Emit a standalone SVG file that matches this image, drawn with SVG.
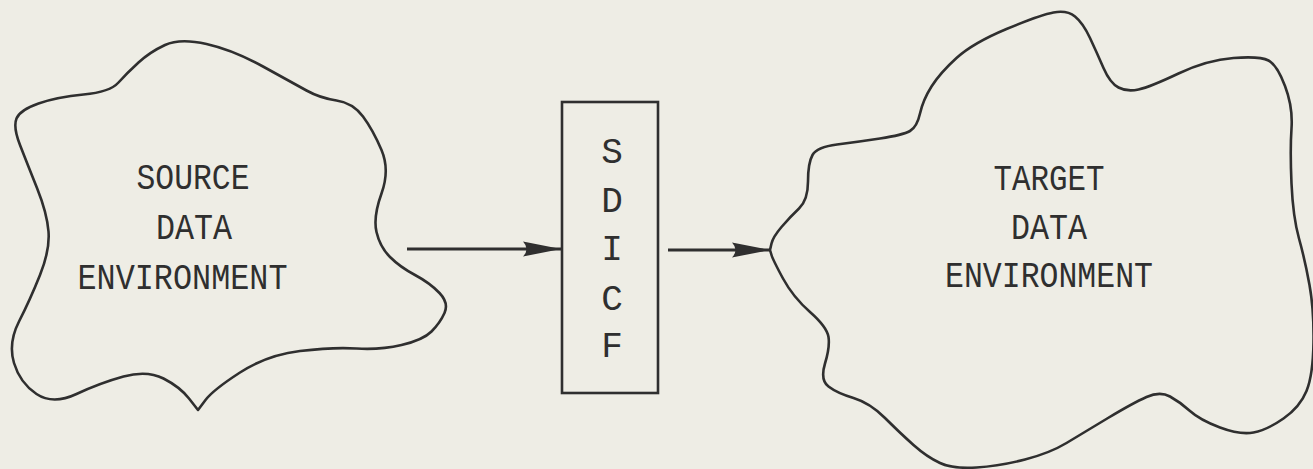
<svg xmlns="http://www.w3.org/2000/svg" width="1313" height="469" viewBox="0 0 1313 469">
  <style>
    .cloud { fill: none; stroke: #2f2f2f; stroke-width: 2.6; stroke-linejoin: round; }
    .box { fill: none; stroke: #2f2f2f; stroke-width: 2.6; }
    .flow { fill: none; stroke: #2f2f2f; stroke-width: 3.2; }
    .label { font-family: "Liberation Mono", "DejaVu Sans Mono", monospace; font-size: 36px; fill: #2f2f2f; text-anchor: middle; }
  </style>
  <defs>
    <marker id="head" markerUnits="userSpaceOnUse" markerWidth="40" markerHeight="18" refX="38" refY="9" orient="auto">
      <path d="M0,1.5 L38,9 L0,16.5 Q7,9 0,1.5 Z" fill="#2f2f2f"/>
    </marker>
  </defs>
  <rect width="1313" height="469" fill="#eeede5"/>

  <!-- source environment -->
  <g id="source">
    <path class="cloud" d="M138.5,62.5 Q150,52 165,45 Q180,38 206.5,44 Q233,50 263,66.5 Q293,83 306.5,90.5 Q320,98 336.5,100.5 Q353,103 363,116.5 Q373,130 381.5,150 Q390,170 381.5,193.5 Q373,217 376.5,232 Q380,247 390,257 Q400,267 415,275 Q430,283 439.5,293 Q449,303 444.5,313 Q440,323 431.5,331.5 Q423,340 401.5,345 Q380,350 356.5,348.5 Q333,347 300,351 Q267,355 240,372.5 Q213,390 205.5,400 L198,410 L189,398.5 Q180,387 163.5,378.5 Q147,370 123.5,376.5 Q100,383 76.5,394 Q53,405 36.5,394 Q20,383 14,363 Q8,343 19,321.5 Q30,300 40,275 Q50,250 48.5,231.5 Q47,213 37,188 Q27,163 20,145 Q13,127 16.5,118.5 Q20,110 38.5,103.5 Q57,97 83.5,94.5 Q110,92 118.5,82.5 Q127,73 138.5,62.5 Z"/>
    <text class="label" x="193" y="189" textLength="113" lengthAdjust="spacingAndGlyphs">SOURCE</text>
    <text class="label" x="194" y="239" textLength="76" lengthAdjust="spacingAndGlyphs">DATA</text>
    <text class="label" x="182.5" y="289" textLength="210" lengthAdjust="spacingAndGlyphs">ENVIRONMENT</text>
  </g>

  <!-- interface box -->
  <g id="sdicf">
    <rect class="box" x="562" y="102" width="96" height="291"/>
    <text class="label" x="612" y="163">S</text>
    <text class="label" x="612" y="212">D</text>
    <text class="label" x="612" y="260">I</text>
    <text class="label" x="612" y="310">C</text>
    <text class="label" x="612" y="357">F</text>
  </g>

  <!-- target environment -->
  <g id="target">
    <path class="cloud" d="M770,250 L771.5,243.5 Q773,237 781.5,227 Q790,217 799,208.5 Q808,200 808,181.5 Q808,163 812.5,155 Q817,147 837,144.5 Q857,142 880,138.5 Q903,135 910,131 Q917,127 920,113.5 Q923,100 931.5,86.5 Q940,73 956.5,58 Q973,43 1006.5,29 Q1040,15 1053.5,12.5 Q1067,10 1075,16.5 Q1083,23 1090,38 Q1097,53 1103.5,68 Q1110,83 1118.5,87.5 Q1127,92 1138.5,89.5 Q1150,87 1178.5,73.5 Q1207,60 1233.5,58 Q1260,56 1268.5,60.5 Q1277,65 1285,86 Q1293,107 1291.5,128.5 Q1290,150 1291.5,183.5 Q1293,217 1299,238.5 Q1305,260 1309.5,285 Q1314,310 1313.5,342.5 Q1313,375 1306.5,391 Q1300,407 1283.5,418.5 Q1267,430 1253.5,432.5 Q1240,435 1220,427.5 Q1200,420 1190,411 Q1180,402 1170,396.5 Q1160,391 1146.5,397 Q1133,403 1108,418 Q1083,433 1066.5,443 Q1050,453 1025,459.5 Q1000,466 976.5,467.5 Q953,469 940,463 Q927,457 913.5,445 Q900,433 885,418 Q870,403 853.5,398 Q837,393 828.5,386.5 Q820,380 825,363.5 Q830,347 828.5,337 Q827,327 810,312 Q793,297 783,278.5 Q773,260 771.5,255 L770,250 Z"/>
    <text class="label" x="1049" y="190" textLength="111" lengthAdjust="spacingAndGlyphs">TARGET</text>
    <text class="label" x="1049" y="239" textLength="76" lengthAdjust="spacingAndGlyphs">DATA</text>
    <text class="label" x="1049" y="287" textLength="208" lengthAdjust="spacingAndGlyphs">ENVIRONMENT</text>
  </g>

  <!-- data flow -->
  <g id="connectors">
    <line class="flow" x1="407" y1="249" x2="561" y2="249" marker-end="url(#head)"/>
    <line class="flow" x1="668" y1="250" x2="770" y2="250" marker-end="url(#head)"/>
  </g>
</svg>
